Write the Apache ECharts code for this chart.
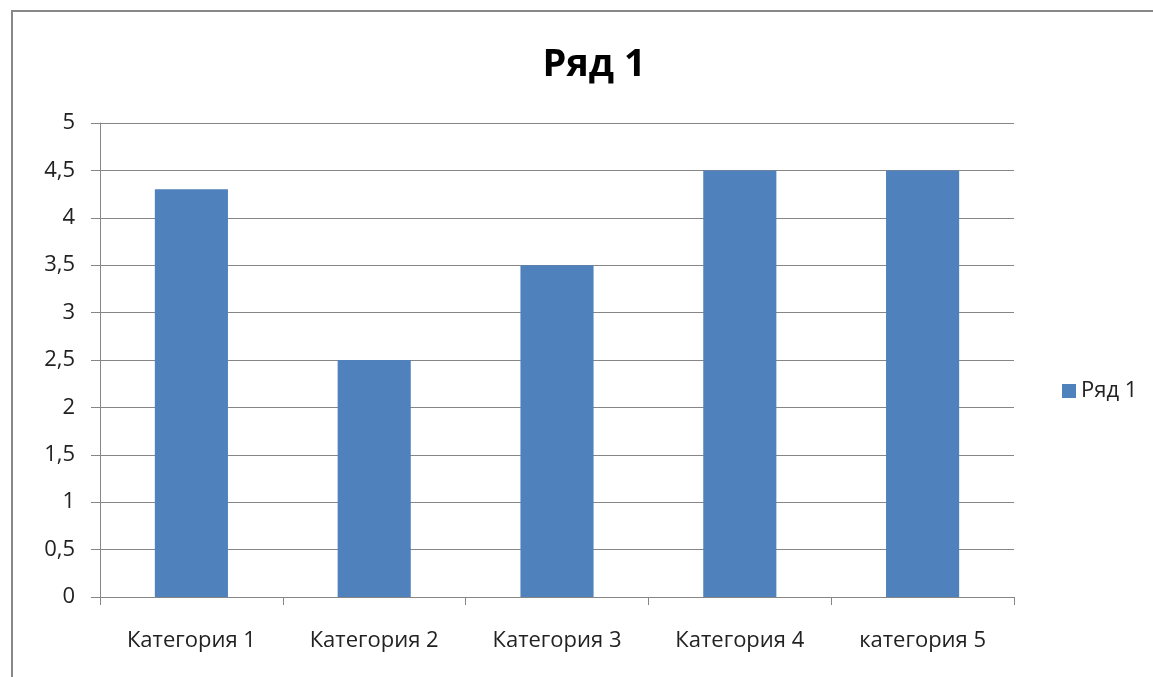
<!DOCTYPE html>
<html><head><meta charset="utf-8">
<script src="https://cdn.jsdelivr.net/npm/echarts@6/dist/echarts.min.js"></script>
<style>html,body{margin:0;padding:0;background:#fff}#c{width:1153px;height:677px}</style>
</head><body><div id="c"></div>
<script>
var categories = ['Категория 1', 'Категория 2', 'Категория 3', 'Категория 4', 'категория 5'];
var seriesName = 'Ряд 1';
var values = [4.3, 2.5, 3.5, 4.5, 4.5];

var chart = echarts.init(document.getElementById('c'));
var font = '"Open Sans", "Noto Sans", sans-serif';
chart.setOption({
  animation: false,
  title: {text: seriesName, left: 589, top: 41, textAlign: 'center',
    textStyle: {fontFamily: font, fontSize: 38, fontWeight: 'bold', color: '#000'}},
  legend: {orient: 'vertical', left: 1057, top: 375, itemWidth: 14, itemHeight: 14, itemGap: 6,
    icon: 'rect', textStyle: {fontFamily: font, fontSize: 22, color: '#222'}},
  graphic: [{type: 'rect', shape: {x: 12, y: 11, width: 1300, height: 800},
    style: {fill: 'none', stroke: '#888', lineWidth: 2}, silent: true}],
  grid: {left: 100, right: 139, top: 123, bottom: 80},
  xAxis: {type: 'category', data: categories,
    axisLine: {lineStyle: {color: '#868686'}},
    axisTick: {show: true, length: 8, lineStyle: {color: '#868686'}},
    axisLabel: {fontFamily: font, fontSize: 22, color: '#222', margin: 33}},
  yAxis: {type: 'value', min: 0, max: 5, interval: 0.5,
    axisLine: {show: true, lineStyle: {color: '#868686'}},
    axisTick: {show: true, length: 9, lineStyle: {color: '#868686'}},
    splitLine: {lineStyle: {color: '#868686'}},
    axisLabel: {fontFamily: font, fontSize: 22, color: '#222', margin: 25,
      formatter: function (v) { return String(v).replace('.', ','); }}},
  series: [{name: seriesName, type: 'bar', data: values, barWidth: '40%',
    itemStyle: {color: '#4F81BD'}}]
});
</script></body></html>
